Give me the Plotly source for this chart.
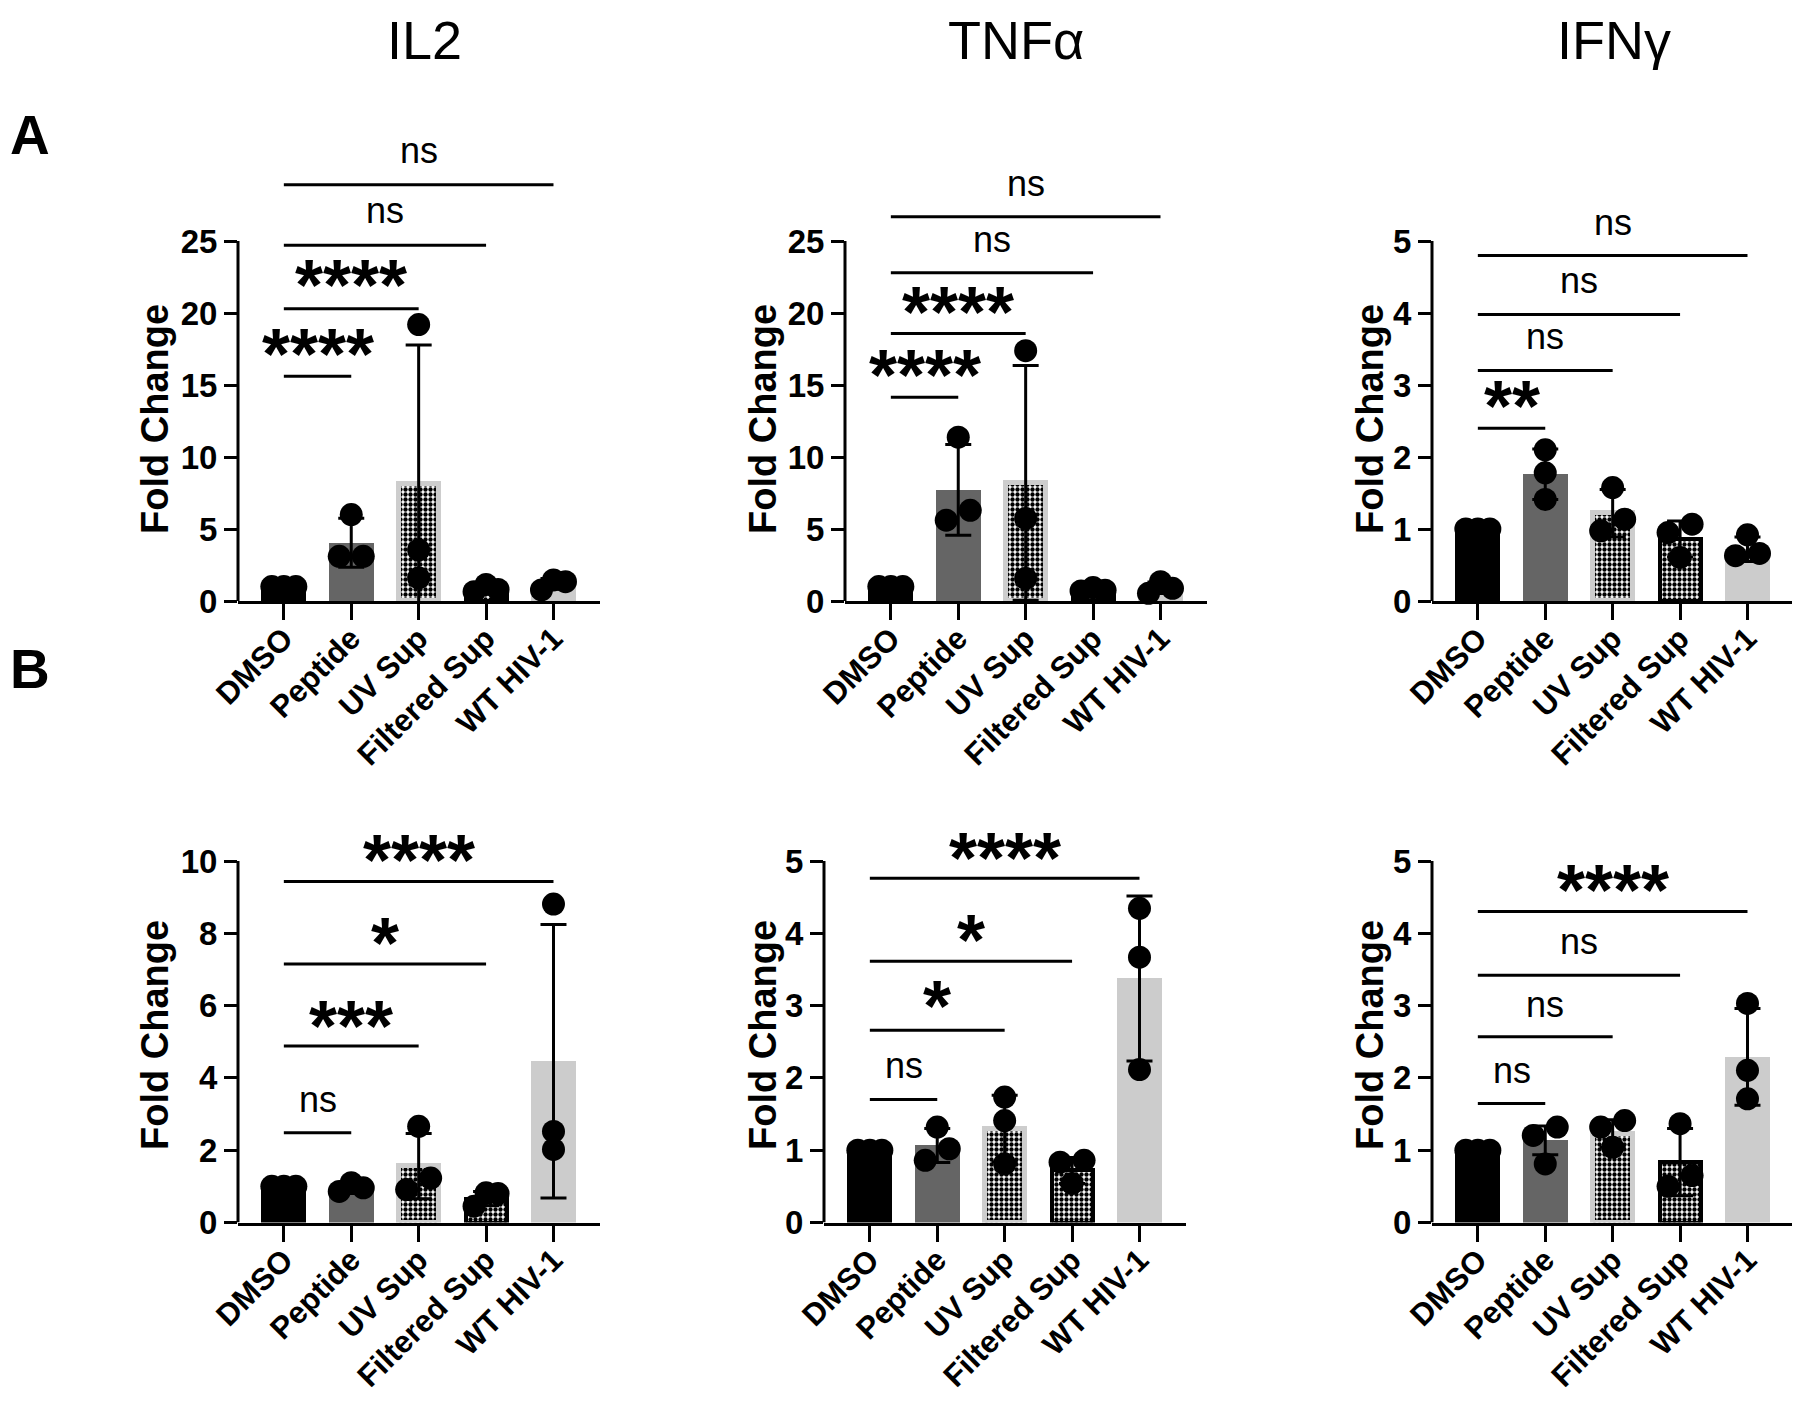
import plotly.graph_objects as go

# ---------------- data ----------------
categories = ["DMSO", "Peptide", "UV Sup", "Filtered Sup", "WT HIV-1"]
cytokines = ["IL2", "TNF\u03b1", "IFN\u03b3"]
panel_letters = ["A", "B"]
y_title = "Fold Change"

# Row A
a_il2_points = [[1, 1, 1], [3.1, 3.1, 6.0], [19.2, 3.55, 1.6], [0.65, 1.15, 0.8], [0.77, 1.46, 1.34]]
a_il2_mean = [1.0, 4.05, 8.12, 0.87, 1.19]
a_il2_sd = [0, 1.7, 9.66, 0.25, 0.37]
a_il2_sig = ["****", "****", "ns", "ns"]
a_il2_sig_line = [15.6, 20.3, 24.7, 28.9]
a_il2_sig_text = [17.7, 22.5, 26.9, 31.05]

a_tnf_points = [[1, 1, 1], [11.38, 5.61, 6.30], [17.38, 5.73, 1.57], [0.7, 0.93, 0.75], [0.53, 1.34, 0.88]]
a_tnf_mean = [1.0, 7.72, 8.2, 0.79, 0.92]
a_tnf_sd = [0, 3.15, 8.15, 0.12, 0.4]
a_tnf_sig = ["****", "****", "ns", "ns"]
a_tnf_sig_line = [14.15, 18.58, 22.8, 26.68]
a_tnf_sig_text = [16.23, 20.6, 24.88, 28.8]

a_ifn_points = [[1, 1, 1], [2.1, 1.78, 1.41], [1.575, 0.974, 1.136], [1.067, 0.95, 0.605], [0.92, 0.63, 0.66]]
a_ifn_mean = [1.0, 1.76, 1.22, 0.86, 0.72]
a_ifn_sd = [0, 0.35, 0.33, 0.25, 0.17]
a_ifn_sig = ["**", "ns", "ns", "ns"]
a_ifn_sig_line = [2.40, 3.20, 3.98, 4.80]
a_ifn_sig_text = [2.82, 3.63, 4.41, 5.22]

# Row B
b_il2_points = [[1, 1, 1], [0.86, 1.1, 0.96], [2.66, 0.91, 1.23], [0.45, 0.8, 0.82], [8.81, 2.02, 2.52]]
b_il2_mean = [1.0, 0.92, 1.56, 0.66, 4.46]
b_il2_sd = [0, 0.12, 0.9, 0.2, 3.78]
b_il2_sig = ["ns", "***", "*", "****"]
b_il2_sig_line = [2.48, 4.88, 7.15, 9.43]
b_il2_sig_text = [3.31, 5.65, 7.96, 10.26]

b_tnf_points = [[1, 1, 1], [1.32, 0.86, 1.02], [1.735, 1.41, 0.81], [0.86, 0.835, 0.54], [4.345, 3.67, 2.115]]
b_tnf_mean = [1.0, 1.066, 1.30, 0.72, 3.375]
b_tnf_sd = [0, 0.235, 0.46, 0.18, 1.14]
b_tnf_sig = ["ns", "*", "*", "****"]
b_tnf_sig_line = [1.70, 2.66, 3.615, 4.76]
b_tnf_sig_text = [2.13, 3.10, 4.02, 5.15]

b_ifn_points = [[1, 1, 1], [1.32, 1.205, 0.81], [1.41, 1.32, 1.04], [1.367, 0.65, 0.5], [3.03, 2.105, 1.71]]
b_ifn_mean = [1.0, 1.136, 1.23, 0.835, 2.29]
b_ifn_sd = [0, 0.2, 0.19, 0.465, 0.67]
b_ifn_sig = ["ns", "ns", "ns", "****"]
b_ifn_sig_line = [1.645, 2.57, 3.42, 4.30]
b_ifn_sig_text = [2.06, 2.98, 3.84, 4.71]

y_max = [[25, 25, 5], [10, 5, 5]]
y_step = [[5, 5, 1], [2, 1, 1]]

panels = [
    [(a_il2_points, a_il2_mean, a_il2_sd, a_il2_sig, a_il2_sig_line, a_il2_sig_text),
     (a_tnf_points, a_tnf_mean, a_tnf_sd, a_tnf_sig, a_tnf_sig_line, a_tnf_sig_text),
     (a_ifn_points, a_ifn_mean, a_ifn_sd, a_ifn_sig, a_ifn_sig_line, a_ifn_sig_text)],
    [(b_il2_points, b_il2_mean, b_il2_sd, b_il2_sig, b_il2_sig_line, b_il2_sig_text),
     (b_tnf_points, b_tnf_mean, b_tnf_sd, b_tnf_sig, b_tnf_sig_line, b_tnf_sig_text),
     (b_ifn_points, b_ifn_mean, b_ifn_sd, b_ifn_sig, b_ifn_sig_line, b_ifn_sig_text)],
]

# ---------------- layout / style ----------------
FONT = "Liberation Sans, Arial, sans-serif"
WIN_W, WIN_H = 1800, 1402
PAGE_MARGIN = 8
FIG_W, FIG_H = WIN_W - 2 * PAGE_MARGIN, WIN_H - 2 * PAGE_MARGIN


def px_x(px):
    return min(1.0, max(0.0, (px - PAGE_MARGIN) / FIG_W))


def px_y(py):
    return min(1.0, max(0.0, 1 - (py - PAGE_MARGIN) / FIG_H))


ROW_GEOM = [dict(zero=601, tick_top=241, dom_top=112),
            dict(zero=1222.5, tick_top=861, dom_top=812)]
COL_LEFT = [[238, 845, 1432], [238, 824, 1432]]
AXIS_W = 362
X_MIN, X_MAX = -0.68, 4.69
PX_PER_CAT = AXIS_W / (X_MAX - X_MIN)
RIGHT_LIMIT = WIN_W - PAGE_MARGIN
BAR_PX = 45
DOT = 23
JIT_PX = 12

# pattern bars: marker colour becomes the pattern foreground ("replace" mode)
bar_fill = ["#000000", "#656565", "#000000", "#000000", "#cccccc"]
bar_line_color = ["#000000", "#656565", "#cdcdcd", "#000000", "#cccccc"]
bar_line_w = [0, 0, 5, 4, 0]
bar_pattern = ["", "", ".", ".", ""]

YTITLE_X = [[155, 763, 1370], [155, 763, 1370]]
YTITLE_Y = [419, 1035]
COLTITLE_X = [424, 1016, 1614]
COLTITLE_Y = 40
LETTER_X = 30
LETTER_Y = [135, 669]


def jitter(vals, px_per_unit):
    order = sorted(range(len(vals)), key=lambda i: vals[i])
    rows = []
    for i in order:
        if rows and abs(vals[i] - vals[rows[-1][0]]) * px_per_unit < DOT * 0.68:
            rows[-1].append(i)
        else:
            rows.append([i])
    pat = {1: [0], 2: [-1, 1], 3: [-1, 1, 0]}
    offs = [0.0] * len(vals)
    for r in rows:
        for k, i in enumerate(r):
            offs[i] = pat[len(r)][k] * JIT_PX / PX_PER_CAT
    return offs


fig = go.Figure()
layout = dict(width=FIG_W, height=FIG_H, margin=dict(l=0, r=0, t=0, b=0, autoexpand=False),
              paper_bgcolor="white", plot_bgcolor="white", showlegend=False,
              font=dict(family=FONT, color="black"), bargap=0)
shapes, annotations = [], []

idx = 0
for r in range(2):
    g = ROW_GEOM[r]
    for c in range(3):
        idx += 1
        pts, mean, sd, sig, sig_line, sig_text = panels[r][c]
        ymax, ystep = y_max[r][c], y_step[r][c]
        xa = "x" if idx == 1 else f"x{idx}"
        ya = "y" if idx == 1 else f"y{idx}"
        left = COL_LEFT[r][c]
        right = min(left + AXIS_W, RIGHT_LIMIT)
        x_range = [X_MIN, X_MIN + (right - left) / PX_PER_CAT]
        y_top = ymax * (g["zero"] - g["dom_top"]) / (g["zero"] - g["tick_top"])
        px_per_unit = (g["zero"] - g["tick_top"]) / ymax

        layout["xaxis" if idx == 1 else f"xaxis{idx}"] = dict(
            domain=[px_x(left), px_x(right)], range=x_range, anchor=ya, automargin=False,
            tickvals=list(range(len(categories))), ticktext=categories, tickangle=-45,
            showline=True, linewidth=3, linecolor="black", ticks="outside",
            ticklen=16, tickwidth=3, tickcolor="black", showgrid=False, zeroline=False,
            ticklabelstandoff=-12,
            tickfont=dict(size=31, family=FONT, weight="bold", color="black"))
        layout["yaxis" if idx == 1 else f"yaxis{idx}"] = dict(
            domain=[px_y(g["zero"]), px_y(g["dom_top"])], range=[0, y_top], anchor=xa,
            automargin=False,
            tickvals=list(range(0, ymax + ystep, ystep)), showline=False, ticks="outside",
            ticklen=13, tickwidth=3, tickcolor="black", showgrid=False, zeroline=False,
            tickfont=dict(size=33, family=FONT, weight="bold", color="black"))

        shapes.append(dict(type="line", xref=f"{xa} domain", yref=ya, x0=0, x1=0, y0=0, y1=ymax,
                           line=dict(color="black", width=3)))

        xs = list(range(len(categories)))
        fig.add_trace(go.Bar(
            x=xs, y=mean, xaxis=xa, yaxis=ya,
            width=[(BAR_PX - lw) / PX_PER_CAT for lw in bar_line_w],
            marker=dict(color=bar_fill, line=dict(color=bar_line_color, width=bar_line_w),
                        pattern=dict(shape=bar_pattern, size=5, solidity=0.6,
                                     fillmode="replace")),
            error_y=dict(type="data", array=sd, visible=True, color="black",
                         thickness=3, width=13)))

        px_, py_ = [], []
        for k, vals in enumerate(pts):
            offs = jitter(vals, px_per_unit)
            for v, o in zip(vals, offs):
                px_.append(k + o)
                py_.append(v)
        fig.add_trace(go.Scatter(x=px_, y=py_, xaxis=xa, yaxis=ya, mode="markers",
                                 marker=dict(size=DOT, color="black", line=dict(width=0)),
                                 cliponaxis=False))

        for k, (lab, ly, ty) in enumerate(zip(sig, sig_line, sig_text), start=1):
            shapes.append(dict(type="line", xref=xa, yref=ya, x0=0, x1=k, y0=ly, y1=ly,
                               line=dict(color="black", width=3)))
            star = lab.startswith("*")
            annotations.append(dict(
                xref=xa, yref=ya, x=k / 2, y=ty, text=lab, showarrow=False,
                xanchor="center", yanchor="middle", yshift=-8 if star else 3,
                font=dict(size=72 if star else 36, family=FONT,
                          weight="bold" if star else "normal", color="black")))

        annotations.append(dict(
            xref="paper", yref="paper", x=px_x(YTITLE_X[r][c]), y=px_y(YTITLE_Y[r]),
            text=y_title, textangle=-90, showarrow=False, xanchor="center", yanchor="middle",
            font=dict(size=38, family=FONT, weight="bold", color="black")))

for c, t in enumerate(cytokines):
    annotations.append(dict(xref="paper", yref="paper", x=px_x(COLTITLE_X[c]), y=px_y(COLTITLE_Y),
                            text=t, showarrow=False, xanchor="center", yanchor="middle",
                            font=dict(size=54, family=FONT, color="black")))
for r, t in enumerate(panel_letters):
    annotations.append(dict(xref="paper", yref="paper", x=px_x(LETTER_X), y=px_y(LETTER_Y[r]),
                            text=t, showarrow=False, xanchor="center", yanchor="middle",
                            font=dict(size=55, family=FONT, weight="bold", color="black")))

layout["shapes"] = shapes
layout["annotations"] = annotations
fig.update_layout(**layout)
fig.write_html("out.html")
